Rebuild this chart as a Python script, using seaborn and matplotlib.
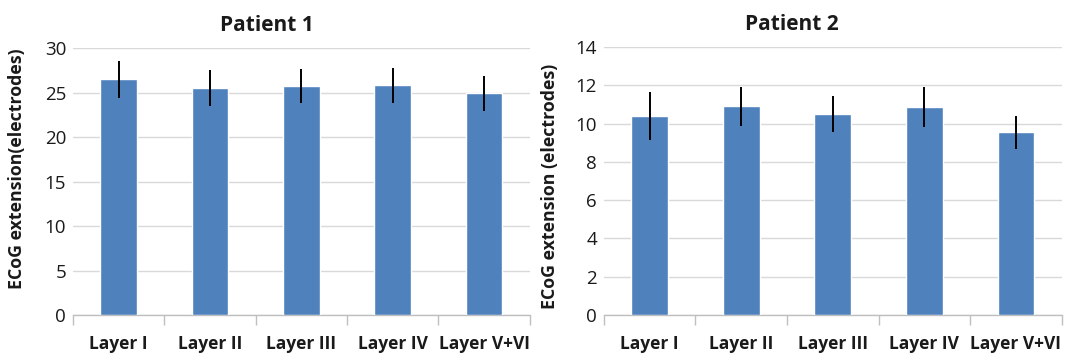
import matplotlib
matplotlib.use("Agg")
import matplotlib.pyplot as plt
import seaborn as sns
import pandas as pd
import numpy as np

categories = ["Layer I", "Layer II", "Layer III", "Layer IV", "Layer V+VI"]
p1_values = [26.5, 25.5, 25.7, 25.8, 24.9]
p1_errors = [2.1, 2.0, 1.9, 2.0, 1.95]
p2_values = [10.4, 10.9, 10.5, 10.85, 9.55]
p2_errors = [1.27, 1.02, 0.95, 1.05, 0.87]
p1_yticks = [0, 5, 10, 15, 20, 25, 30]
p2_yticks = [0, 2, 4, 6, 8, 10, 12, 14]

sns.set_theme(style="white")
plt.rcParams['font.family'] = ['Open Sans', 'DejaVu Sans']

BAR = "#4F81BD"
GRID = "#D9D9D9"
AXIS = "#BFBFBF"
TXT = "#1a1a1a"

fig = plt.figure(figsize=(10.68, 3.56), dpi=100)
ax1 = fig.add_axes([0.0684, 0.115, 0.4276, 0.750])
ax2 = fig.add_axes([0.5655, 0.115, 0.4285, 0.753])

def draw(ax, values, errors, yticks, title, ylabel, title_x, lab_xy):
    df = pd.DataFrame({"Layer": categories, "Value": values})
    sns.barplot(data=df, x="Layer", y="Value", color=BAR, width=0.4,
                saturation=1, ax=ax, errorbar=None, zorder=3)
    ax.errorbar(x=np.arange(len(categories)), y=values, yerr=errors,
                fmt="none", ecolor="black", elinewidth=1.4, capsize=0, zorder=4)
    ax.set_xlim(-0.5, len(categories) - 0.5)
    ax.set_ylim(yticks[0], yticks[-1])
    ax.set_yticks(yticks)
    ax.yaxis.grid(True, color=GRID, linewidth=1, zorder=0)
    ax.set_axisbelow(True)
    for s in ["top", "right", "left"]:
        ax.spines[s].set_visible(False)
    ax.spines["bottom"].set_color(AXIS)
    ax.spines["bottom"].set_linewidth(1)
    ax.set_xticks(np.arange(-0.5, len(categories), 1.0), minor=True)
    ax.tick_params(axis="x", which="major", length=0, pad=14, labelsize=12.5,
                   labelcolor=TXT)
    ax.tick_params(axis="x", which="minor", length=7, color=AXIS, width=1,
                   direction="out", bottom=True)
    ax.tick_params(axis="y", length=0, pad=5, labelsize=13.5, labelcolor=TXT)
    for lab in ax.get_xticklabels():
        lab.set_fontweight("bold")
    ax.set_xlabel("")
    ax.set_ylabel(ylabel, fontsize=12.8, fontweight="bold", color=TXT)
    ax.yaxis.set_label_coords(*lab_xy)
    ax.set_title(title, fontsize=15, fontweight="bold", pad=12, x=title_x,
                 color=TXT)

draw(ax1, p1_values, p1_errors, p1_yticks, "Patient 1",
     "ECoG extension(electrodes)", 0.425, (-0.103, 0.55))
draw(ax2, p2_values, p2_errors, p2_yticks, "Patient 2",
     "ECoG extension (electrodes)", 0.41, (-0.098, 0.48))

fig.savefig("out.png", dpi=100)
